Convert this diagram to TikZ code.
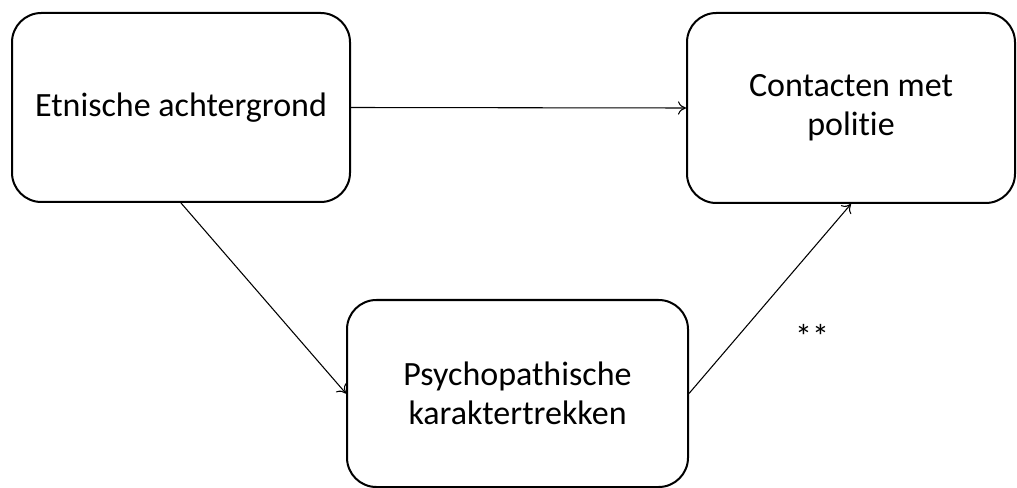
\documentclass[tikz,border=0pt]{standalone}
\usepackage{fontspec}
\setmainfont[RawFeature=-liga]{Carlito}
\usetikzlibrary{arrows.meta}

\tikzset{
  boxnode/.style={draw, line width=1.5pt, rounded corners=22pt, inner sep=0pt, align=center,
    font=\fontsize{25.5}{29}\selectfont},
  link/.style={line width=0.8pt, -{To[length=6pt,width=10pt]}}
}

\begin{document}
\begin{tikzpicture}[x=0.75pt,y=0.75pt,yscale=-1,xscale=1]
	\useasboundingbox (0,0) rectangle (1017,488);
	
	%Shape: Rounded Rect [id:etnisch]
	\node [boxnode, minimum width=253.5pt, minimum height=141.75pt] (etnisch) at (181,107.5) {Etnische achtergrond};
	%Shape: Rounded Rect [id:contact]
	\node [boxnode, minimum width=246pt, minimum height=142.5pt] (contact) at (851,108) {Contacten met\\politie};
	%Shape: Rounded Rect [id:psycho]
	\node [boxnode, minimum width=255.75pt, minimum height=140.25pt] (psycho) at (517.5,393.5) {Psychopathische\\karaktertrekken};
	
	%Straight Lines [id:etnisch-contact]
	\draw [link] (etnisch.east) -- (contact.west) ;
	%Straight Lines [id:etnisch-psycho]
	\draw [link] (etnisch.south) -- (psycho.west) ;
	%Straight Lines [id:psycho-contact]
	\draw [link] (psycho.east) -- (contact.south) ;
	
	% Text Node
	\node [inner sep=0.75pt, font=\fontsize{25.5}{29}\selectfont] (sig) at (812,336) {**};
	
\end{tikzpicture}
\end{document}
